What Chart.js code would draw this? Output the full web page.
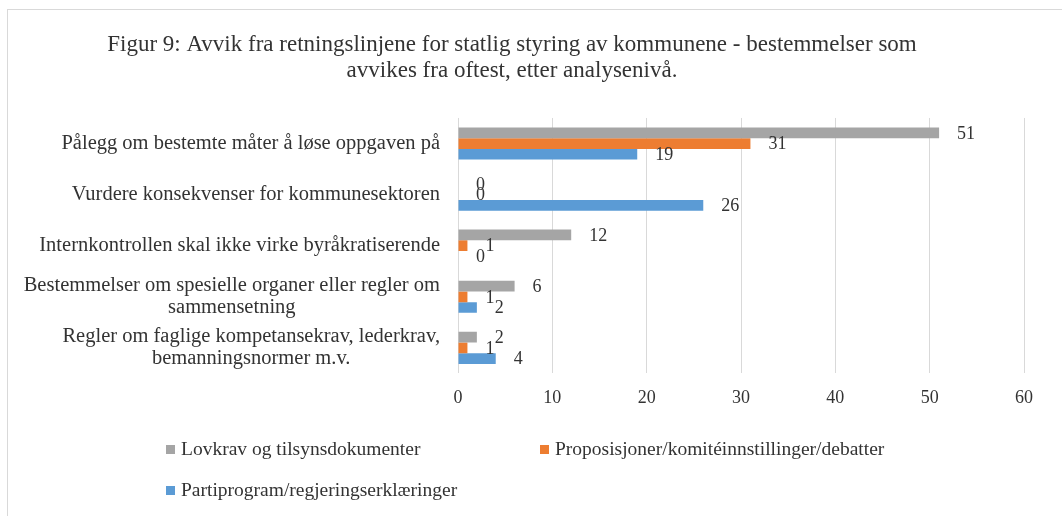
<!DOCTYPE html>
<html>
<head>
<meta charset="utf-8">
<script src="https://cdn.jsdelivr.net/npm/chart.js@4.4.0/dist/chart.umd.min.js"></script>
<style>
  html, body { margin: 0; padding: 0; background: #fff; }
  #wrap { position: relative; width: 1062px; height: 516px; overflow: hidden; }
  #frame { position: absolute; left: 7px; top: 9px; width: 1100px; height: 600px; border: 1px solid #d9d9d9; box-sizing: border-box; }
  canvas { position: absolute; left: 0; top: 0; }
  .leg { position: absolute; font: 19.5px 'Liberation Serif', serif; color: #333; white-space: nowrap; line-height: 20px; }
  .leg span { display: inline-block; width: 9px; height: 9px; margin-right: 6px; vertical-align: 1px; }
</style>
</head>
<body>
<div id="wrap">
  <div id="frame"></div>
  <canvas id="c" width="1062" height="516"></canvas>
</div>
<script>
// category labels, split in lines the way the figure wraps them
const categories = [
  ['Pålegg om bestemte måter å løse oppgaven på'],
  ['Vurdere konsekvenser for kommunesektoren'],
  ['Internkontrollen skal ikke virke byråkratiserende'],
  ['Bestemmelser om spesielle organer eller regler om', 'sammensetning'],
  ['Regler om faglige kompetansekrav, lederkrav,', 'bemanningsnormer m.v.']
]
const seriesNames = [
  'Lovkrav og tilsynsdokumenter',
  'Proposisjoner/komitéinnstillinger/debatter',
  'Partiprogram/regjeringserklæringer'
]
const lovkrav = [51, 0, 12, 6, 2]
const proposisjoner = [31, 0, 1, 1, 1]
const partiprogram = [19, 26, 0, 2, 4]
const xMin = 0, xMax = 60, xStep = 10

const colors = ['#A5A5A5', '#ED7D31', '#5B9BD5']
const textColor = '#333'
const fontFam = "'Liberation Serif', serif"

Chart.defaults.font.family = fontFam
Chart.defaults.color = textColor

// category labels: right aligned block, lines centred inside it (like Excel)
const yLabels = {
  id: 'yLabels',
  afterDraw(chart) {
    const ctx = chart.ctx
    const y = chart.scales.y
    ctx.save()
    ctx.font = '20.5px ' + fontFam
    ctx.fillStyle = textColor
    ctx.textAlign = 'center'
    ctx.textBaseline = 'middle'
    const right = chart.chartArea.left - 18
    const lh = 22
    categories.forEach((lines, i) => {
      const cy = y.getPixelForValue(i)
      const w = Math.max(...lines.map(t => ctx.measureText(t).width))
      const y0 = cy - (lines.length - 1) * lh / 2
      lines.forEach((t, j) => ctx.fillText(t, right - w / 2, y0 + j * lh))
    })
    ctx.restore()
  }
}

// value labels at the outer end of each bar
const valueLabels = {
  id: 'valueLabels',
  afterDatasetsDraw(chart) {
    const ctx = chart.ctx
    ctx.save()
    ctx.font = '18px ' + fontFam
    ctx.fillStyle = textColor
    ctx.textAlign = 'left'
    ctx.textBaseline = 'middle'
    chart.data.datasets.forEach((ds, di) => {
      chart.getDatasetMeta(di).data.forEach((bar, i) => {
        ctx.fillText(String(ds.data[i]), bar.x + 18, bar.y + 1)
      })
    })
    ctx.restore()
  }
}

const chart = new Chart(document.getElementById('c'), {
  type: 'bar',
  data: {
    labels: categories.map(l => l.join(' ')),
    datasets: [
      {label: seriesNames[0], data: lovkrav, backgroundColor: colors[0]},
      {label: seriesNames[1], data: proposisjoner, backgroundColor: colors[1]},
      {label: seriesNames[2], data: partiprogram, backgroundColor: colors[2]}
    ]
  },
  options: {
    responsive: false,
    animation: false,
    indexAxis: 'y',
    datasets: {
      bar: {categoryPercentage: 0.63, barPercentage: 1.0, borderWidth: 0}
    },
    layout: {padding: {left: 0, right: 38, top: 0, bottom: 93}},
    scales: {
      x: {
        min: xMin,
        max: xMax,
        ticks: {stepSize: xStep, padding: 14, font: {size: 18}, color: textColor},
        grid: {color: '#d9d9d9', lineWidth: 1, drawTicks: false},
        border: {display: false}
      },
      y: {
        ticks: {display: false},
        grid: {display: false},
        border: {display: false},
        afterFit(scale) { scale.width = 458 }
      }
    },
    plugins: {
      legend: {display: false},
      tooltip: {enabled: false},
      title: {
        display: true,
        text: ['Figur 9: Avvik fra retningslinjene for statlig styring av kommunene - bestemmelser som',
               'avvikes fra oftest, etter analysenivå.'],
        font: {size: 23, weight: 'normal', lineHeight: 1.13},
        color: textColor,
        padding: {top: 32, bottom: 34}
      }
    }
  },
  plugins: [yLabels, valueLabels]
})

// legend, built from the same series
const legendPos = [[166, 439], [540, 439], [166, 480]]
const wrap = document.getElementById('wrap')
seriesNames.forEach((name, i) => {
  const d = document.createElement('div')
  d.className = 'leg'
  d.style.left = legendPos[i][0] + 'px'
  d.style.top = legendPos[i][1] + 'px'
  d.innerHTML = '<span style="background:' + colors[i] + '"></span>' + name
  wrap.appendChild(d)
})
</script>
</body>
</html>
